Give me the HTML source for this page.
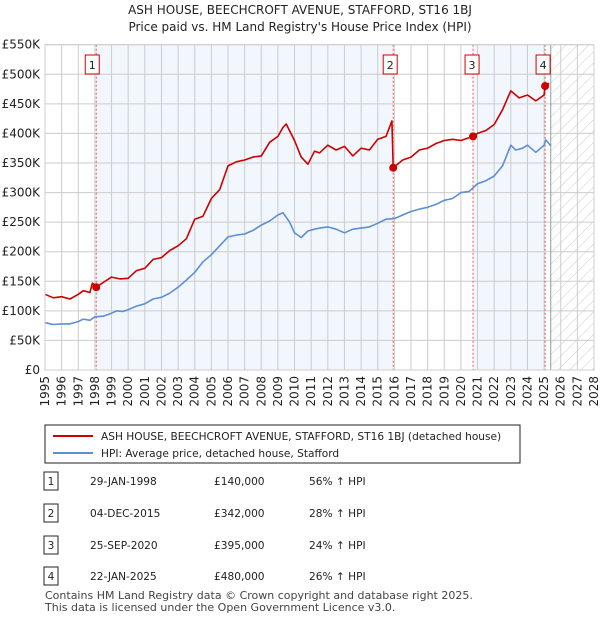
<!DOCTYPE html>
<html><head><meta charset="utf-8"><style>
body{margin:0;background:#fff;font-family:"Liberation Sans","DejaVu Sans",sans-serif;}
svg text{font-family:"DejaVu Sans","Liberation Sans",sans-serif;}
</style></head><body>
<svg id="c" width="600" height="620" xmlns="http://www.w3.org/2000/svg">
<defs><pattern id="hatch" width="8" height="8" patternUnits="userSpaceOnUse" patternTransform="rotate(45)"><line x1="0" y1="0" x2="0" y2="8" stroke="#ccc" stroke-width="1"/></pattern></defs>
<text x="300" y="14" text-anchor="middle" font-size="12" fill="#222">ASH HOUSE, BEECHCROFT AVENUE, STAFFORD, ST16 1BJ</text>
<text x="300" y="31" text-anchor="middle" font-size="12" fill="#222">Price paid vs. HM Land Registry's House Price Index (HPI)</text>
<g id="plot"></g>
<rect x="45" y="425" width="475" height="38" fill="#fff" stroke="#222"/>
<line x1="53" y1="436" x2="93" y2="436" stroke="#cc0000" stroke-width="2"/>
<text x="101" y="440" font-size="10.6" fill="#222">ASH HOUSE, BEECHCROFT AVENUE, STAFFORD, ST16 1BJ (detached house)</text>
<line x1="53" y1="453" x2="93" y2="453" stroke="#5b8fd6" stroke-width="2"/>
<text x="101" y="457" font-size="10.6" fill="#222">HPI: Average price, detached house, Stafford</text>
<g id="tbl" font-size="10.6" fill="#222"></g>
<text x="45" y="599" font-size="11" fill="#444">Contains HM Land Registry data © Crown copyright and database right 2025.</text>
<text x="45" y="611" font-size="11" fill="#444">This data is licensed under the Open Government Licence v3.0.</text>
</svg>
<script>
const yTicks=[0,50,100,150,200,250,300,350,400,450,500,550];
const xYears=[1995,1996,1997,1998,1999,2000,2001,2002,2003,2004,2005,2006,2007,2008,2009,2010,2011,2012,2013,2014,2015,2016,2017,2018,2019,2020,2021,2022,2023,2024,2025,2026,2027,2028];
const hpiT=[1995,1995.5,1996,1996.5,1997,1997.3,1997.7,1998,1998.5,1999,1999.3,1999.7,2000,2000.5,2001,2001.5,2002,2002.5,2003,2003.5,2004,2004.5,2005,2005.5,2006,2006.5,2007,2007.5,2008,2008.5,2009,2009.3,2009.7,2010,2010.4,2010.8,2011.2,2011.5,2012,2012.5,2013,2013.5,2014,2014.5,2015,2015.5,2016,2016.5,2017,2017.5,2018,2018.5,2019,2019.5,2020,2020.5,2021,2021.5,2022,2022.5,2023,2023.3,2023.7,2024,2024.5,2025,2025.1,2025.4];
const hpiV=[80,77,78,78,82,86,84,90,91,96,100,99,102,108,112,120,123,130,140,152,165,183,195,210,225,228,230,236,245,252,262,266,250,232,224,235,238,240,242,238,232,238,240,242,248,255,256,262,268,272,275,280,287,290,300,302,315,320,328,345,380,372,375,380,368,380,389,379];
const ppT=[1995,1995.5,1996,1996.5,1997,1997.3,1997.7,1997.85,1998.08,1998.5,1999,1999.5,2000,2000.5,2001,2001.5,2002,2002.5,2003,2003.5,2004,2004.5,2005,2005.5,2006,2006.5,2007,2007.5,2008,2008.5,2009,2009.3,2009.5,2010,2010.4,2010.8,2011.2,2011.5,2012,2012.5,2013,2013.5,2014,2014.5,2015,2015.5,2015.85,2015.93,2016.5,2017,2017.5,2018,2018.5,2019,2019.5,2020,2020.73,2021,2021.5,2022,2022.5,2023,2023.5,2024,2024.5,2025,2025.06,2025.3];
const ppV=[128,122,124,120,128,134,131,147,140,148,157,154,155,168,172,187,190,202,210,222,255,260,290,305,345,352,355,360,362,385,395,410,416,388,360,348,370,367,380,372,378,362,375,372,390,395,421,342,355,360,372,375,383,388,390,388,395,400,405,415,440,472,460,465,455,465,480,485];
const saleT=[1998.08,2015.93,2020.73,2025.06];
const saleV=[140,342,395,480];
const saleDates=["29-JAN-1998","04-DEC-2015","25-SEP-2020","22-JAN-2025"];
const salePrices=["£140,000","£342,000","£395,000","£480,000"];
const saleHpi=["56% ↑ HPI","28% ↑ HPI","24% ↑ HPI","26% ↑ HPI"];
const X0=45,X1=594,Y0=370,Y1=44.7;
const sx=t=>X0+(t-1995)/33*(X1-X0);
const sy=v=>Y0-v/550*(Y0-Y1);
const NS="http://www.w3.org/2000/svg";
const plot=document.getElementById('plot');
function mk(tag,attrs,parent){const e=document.createElementNS(NS,tag);for(const k in attrs)e.setAttribute(k,attrs[k]);(parent||plot).appendChild(e);return e;}
let b=mk('rect',{x:sx(saleT[0]),y:Y1,width:sx(saleT[1])-sx(saleT[0]),height:Y0-Y1,fill:'#f2f6fd'});


b=mk('rect',{x:sx(saleT[2]),y:Y1,width:sx(saleT[3])-sx(saleT[2]),height:Y0-Y1,fill:'#f2f6fd'});


b=mk('rect',{x:sx(2025.4),y:Y1,width:X1-sx(2025.4),height:Y0-Y1,fill:'url(#hatch)'});


yTicks.forEach(v=>{
 const l=mk('line',{x1:X0,x2:X1,y1:sy(v),y2:sy(v),stroke:'#ccc','stroke-width':1});
 
 
 const t=mk('text',{x:X0-5,y:sy(v)+4,'text-anchor':'end','font-size':12,fill:'#222'});
 t.textContent=v===0?'£0':'£'+v+'K';
 
 
});
xYears.forEach(y=>{
 const l=mk('line',{x1:sx(y),x2:sx(y),y1:Y1,y2:Y0,stroke:'#ccc','stroke-width':1});
 
 
 const t=mk('text',{transform:`translate(${sx(y)+4},${Y0+6}) rotate(-90)`,'text-anchor':'end','font-size':12,fill:'#222'});
 t.textContent=y;
 
 
});
const bl=mk('line',{x1:sx(2025.4),x2:sx(2025.4),y1:Y1,y2:Y0,stroke:'#999','stroke-width':1});


const boxOff=[11,10,8,9];
saleT.forEach((t,i)=>{
 const l=mk('line',{x1:sx(t),x2:sx(t),y1:Y1,y2:Y0,stroke:'#e55','stroke-width':1,'stroke-dasharray':'2,2'});
 
 
 const r=mk('rect',{x:sx(t)-boxOff[i],y:55,width:14,height:19,fill:'#fff',stroke:'#c00'});
 
 
 const tx=mk('text',{x:sx(t)-boxOff[i]+7,y:69,'text-anchor':'middle','font-size':11,fill:'#222'});
 tx.textContent=i+1;
 
 
});
function line(T,V,col,name){
 const p=mk('polyline',{points:T.map((t,i)=>sx(t).toFixed(1)+','+sy(V[i]).toFixed(1)).join(' '),fill:'none',stroke:col,'stroke-width':1.6,'stroke-linejoin':'round'});
 
 
}
line(hpiT,hpiV,'#5b8fd6','hpi-line');
line(ppT,ppV,'#cc0000','price-paid-line');
saleT.forEach((t,i)=>{
 const c=mk('circle',{cx:sx(t),cy:sy(saleV[i]),r:4,fill:'#cc0000'});
 
 
});
const axis=mk('rect',{x:X0,y:Y1,width:X1-X0,height:Y0-Y1,fill:'none',stroke:'#ccc'});


const tbl=document.getElementById('tbl');
const rowY=[481,513,545,576];
saleDates.forEach((d,i)=>{
 const y=rowY[i];
 const r=mk('rect',{x:44,y:y-9,width:14,height:18,fill:'#fff',stroke:'#222'},tbl);
 
 
 const n=mk('text',{x:51,y:y+4,'text-anchor':'middle'},tbl);n.textContent=i+1;
 
 
 const a=mk('text',{x:90,y:y+4},tbl);a.textContent=d;
 
 
 const p=mk('text',{x:214,y:y+4},tbl);p.textContent=salePrices[i];
 
 
 const h=mk('text',{x:309,y:y+4},tbl);h.textContent=saleHpi[i];
 
 
});
</script>
</body></html>
